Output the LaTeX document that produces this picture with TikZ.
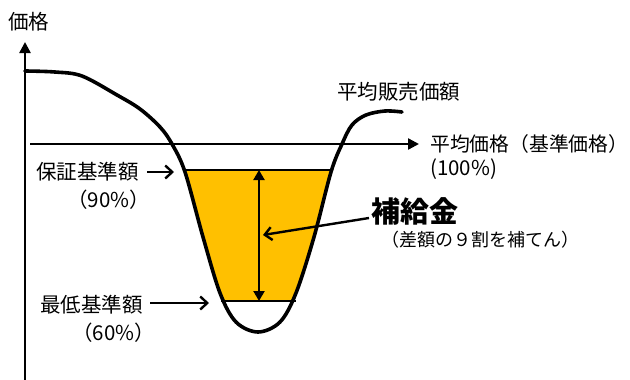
\documentclass[tikz,border=0pt]{standalone}
\usepackage{fontspec}
\setmainfont{Noto Sans CJK JP}
\usetikzlibrary{arrows.meta}
\definecolor{gold}{HTML}{FFC000}
\tikzset{
  lbl/.style={inner sep=0pt, font=\fontsize{20.5pt}{23pt}\selectfont},
  small/.style={inner sep=0pt, font=\fontsize{18pt}{20pt}\selectfont},
  axisline/.style={line width=2.4pt, -{Triangle[length=11pt,width=11pt]}},
  chev/.style={line width=2.4pt, -{Straight Barb[length=7pt,width=13pt,line width=2.4pt]}},
  curve/.style={line width=3.6pt, line join=round, line cap=round},
}
\begin{document}
\begin{tikzpicture}[x=1pt,y=-1pt]
\useasboundingbox (0,0) rectangle (630,380);
% curve path definition
\def\curvepts{(25,71) (55,72) (82,76) (117,95) (140,109) (160,127) (172,144) (185,172) (203,237) (220,293) (236,322) (258,332) (280,322) (296,293) (314,237) (331,172) (342,144) (352,125) (366,115) (385,111) (402,112)}
% yellow fill
\begin{scope}
  \clip (0,170) rectangle (630,301);
  \fill[gold] plot[smooth, tension=0.55] coordinates {\curvepts} -- cycle;
\end{scope}
\coordinate (tl) at (185,170);
\coordinate (tr) at (332,170);
\coordinate (bl) at (221,301);
\coordinate (br) at (296,301);
\draw[line width=2pt] (tl) -- (tr);
\draw[line width=2pt] (bl) -- (br);
% axes
\coordinate (y0) at (25,382);
\coordinate (y1) at (25,42);
\draw[axisline] (y0) -- (y1);
\coordinate (h0) at (30,144);
\coordinate (h1) at (419,144);
\draw[axisline] (h0) -- (h1);
% curve
\draw[curve] plot[smooth, tension=0.55] coordinates {\curvepts};
% double arrow
\coordinate (da) at (259,170);
\coordinate (db) at (259,301);
\draw[line width=2.2pt, {Triangle[length=10pt,width=11pt]}-{Triangle[length=10pt,width=11pt]}] (da) -- (db);
% labels
\node[lbl, anchor=west] (kakaku) at (8,22) {価格};
\node[lbl, anchor=west] (hanbai) at (337,92) {平均販売価額};
\node[inner sep=0pt, font=\fontsize{19.8pt}{22pt}\selectfont, anchor=west] (heikin) at (430,144) {平均価格（基準価格）};
\node[lbl, anchor=west] (p100) at (430,169) {(100\%)};
\node[lbl, anchor=east] (hosho) at (139,172) {保証基準額};
\node[lbl, anchor=east] (p90) at (150,200) {（90\%）};
\node[lbl, anchor=east] (saitei) at (143,305) {最低基準額};
\node[lbl, anchor=east] (p60) at (155,333) {（60\%）};
\node[inner sep=0pt, anchor=west, font=\fontsize{29pt}{31pt}\selectfont\bfseries] (hokyu) at (371,211) {補給金};
\node[small, anchor=west] (sagaku) at (381,240) {（差額の９割を補てん）};
% pointer arrows
\coordinate (a1s) at (147,172);
\coordinate (a1e) at (174,172);
\draw[chev] (a1s) -- (a1e);
\coordinate (a2s) at (150,303);
\coordinate (a2e) at (209,303);
\draw[chev] (a2s) -- (a2e);
\coordinate (ls) at (369,218);
\coordinate (le) at (263,235);
\draw[chev] (ls) -- (le);
\end{tikzpicture}
\end{document}
